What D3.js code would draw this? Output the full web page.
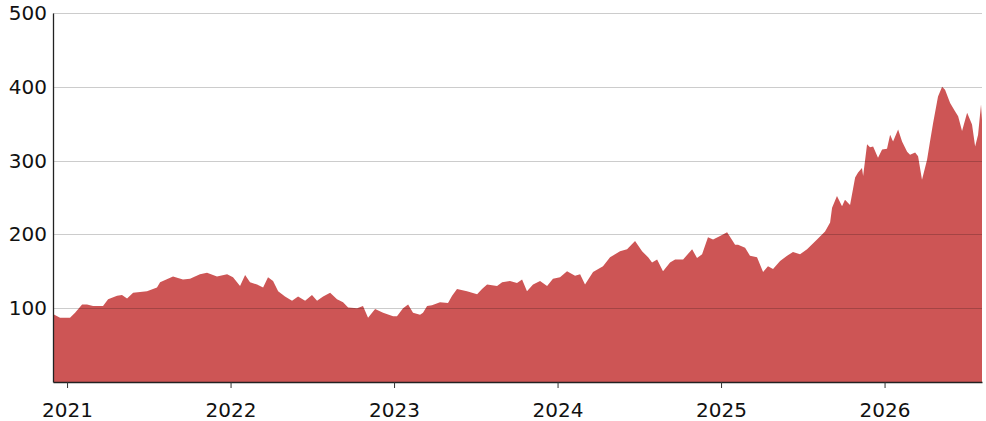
<!DOCTYPE html>
<html>
<head>
<meta charset="utf-8">
<script src="https://cdn.jsdelivr.net/npm/d3@7"></script>
<style>
  html, body { margin: 0; padding: 0; background: #fff; }
  svg { display: block; }
  text { font-family: "DejaVu Sans", Verdana, sans-serif; }
</style>
</head>
<body>
<svg id="chart" width="986" height="421"></svg>
<script>
// Time in decimal years
const years = [
  2020.914, 2020.957, 2021.018, 2021.049, 2021.092, 2021.122, 2021.159, 2021.220, 2021.251, 2021.306,
  2021.336, 2021.367, 2021.404, 2021.489, 2021.550, 2021.569, 2021.648, 2021.709, 2021.752, 2021.813,
  2021.856, 2021.917, 2021.979, 2022.015, 2022.058, 2022.089, 2022.119, 2022.162, 2022.199, 2022.229,
  2022.260, 2022.291, 2022.333, 2022.376, 2022.413, 2022.456, 2022.498, 2022.529, 2022.566, 2022.609,
  2022.651, 2022.688, 2022.719, 2022.774, 2022.810, 2022.841, 2022.884, 2022.933, 2022.994, 2023.018,
  2023.055, 2023.086, 2023.116, 2023.159, 2023.177, 2023.202, 2023.232, 2023.281, 2023.330, 2023.355,
  2023.385, 2023.446, 2023.508, 2023.538, 2023.569, 2023.630, 2023.661, 2023.709, 2023.752, 2023.783,
  2023.813, 2023.850, 2023.893, 2023.936, 2023.972, 2024.015, 2024.058, 2024.107, 2024.138, 2024.168,
  2024.217, 2024.278, 2024.321, 2024.382, 2024.425, 2024.474, 2024.517, 2024.554, 2024.578, 2024.609,
  2024.645, 2024.688, 2024.719, 2024.768, 2024.823, 2024.853, 2024.884, 2024.920, 2024.951, 2024.994,
  2025.037, 2025.086, 2025.104, 2025.147, 2025.177, 2025.220, 2025.257, 2025.287, 2025.318, 2025.361,
  2025.404, 2025.440, 2025.483, 2025.526, 2025.587, 2025.636, 2025.667, 2025.679, 2025.709, 2025.740,
  2025.758, 2025.789, 2025.820, 2025.838, 2025.862, 2025.869, 2025.893, 2025.911, 2025.930, 2025.960,
  2025.985, 2026.015, 2026.034, 2026.052, 2026.083, 2026.107, 2026.138, 2026.156, 2026.187, 2026.205,
  2026.229, 2026.260, 2026.278, 2026.297, 2026.327, 2026.352, 2026.370, 2026.401, 2026.431, 2026.450,
  2026.474, 2026.505, 2026.535, 2026.554, 2026.572, 2026.590, 2026.596
];
const values = [
  92, 87, 87, 94, 105, 105, 103, 103, 112, 117,
  118, 113, 121, 123, 128, 135, 143, 139, 140, 146,
  148, 143, 146, 142, 130, 145, 135, 132, 128, 142,
  137, 123, 116, 110, 116, 110, 118, 110, 116, 121,
  112, 108, 101, 100, 103, 87, 99, 94, 89, 89,
  100, 105, 94, 91, 94, 103, 104, 108, 107, 117,
  126, 123, 119, 126, 132, 130, 135, 137, 134, 139,
  123, 132, 137, 130, 140, 142, 150, 144, 146, 132,
  149, 157, 169, 177, 180, 191, 177, 169, 162, 166,
  150, 162, 166, 166, 180, 168, 173, 196, 193, 198,
  203, 186, 186, 182, 171, 169, 149, 157, 153, 164,
  171, 176, 173, 180, 193, 204, 216, 236, 252, 238,
  247, 240, 277, 284, 290, 279, 322, 318, 319, 304,
  315, 316, 335, 326, 342, 326, 312, 308, 311, 306,
  274, 301, 326, 351, 387, 400, 396, 378, 367, 360,
  340, 365, 349, 319, 335, 376, 355
];
const yTicks = [100, 200, 300, 400, 500];
const xTicks = [2021, 2022, 2023, 2024, 2025, 2026];

const data = years.map((t, i) => ({ t, v: values[i] }));

const svg = d3.select("#chart");
const mLeft = 53, mRight = 982, mTop = 13, mBottom = 382;

const x = d3.scaleLinear().domain([d3.min(years), d3.max(years)]).range([mLeft, mRight]);
const y = d3.scaleLinear().domain([0, 500]).range([mBottom, mTop]);

// area
svg.append("path")
  .datum(data)
  .attr("fill", "#cd5555")
  .attr("d", d3.area().x(d => x(d.t)).y0(y(0)).y1(d => y(d.v)));

// gridlines on top
svg.append("g")
  .selectAll("line")
  .data(yTicks)
  .join("line")
  .attr("x1", mLeft).attr("x2", mRight)
  .attr("y1", d => Math.round(y(d)) + 0.5).attr("y2", d => Math.round(y(d)) + 0.5)
  .attr("stroke", "#000")
  .attr("stroke-opacity", 0.2)
  .attr("stroke-width", 1.2);

// y axis
const yAxis = svg.append("g")
  .attr("transform", `translate(${mLeft},0)`)
  .call(d3.axisLeft(y).tickValues(yTicks).tickSize(0).tickPadding(6));
yAxis.select(".domain").attr("stroke", "#222").attr("stroke-width", 1.3);
yAxis.selectAll("text").attr("font-size", 20).attr("fill", "#111")
  .attr("font-family", "DejaVu Sans, Verdana, sans-serif");

// x axis
const xAxis = svg.append("g")
  .attr("transform", `translate(0,${mBottom})`)
  .call(d3.axisBottom(x).tickValues(xTicks).tickFormat(d3.format("d")).tickSize(6).tickSizeOuter(0).tickPadding(15));
xAxis.select(".domain").attr("stroke", "#222").attr("stroke-width", 1.3);
xAxis.selectAll(".tick line").attr("stroke", "#333");
xAxis.selectAll("text").attr("font-size", 20).attr("fill", "#111")
  .attr("font-family", "DejaVu Sans, Verdana, sans-serif");
</script>
</body>
</html>
